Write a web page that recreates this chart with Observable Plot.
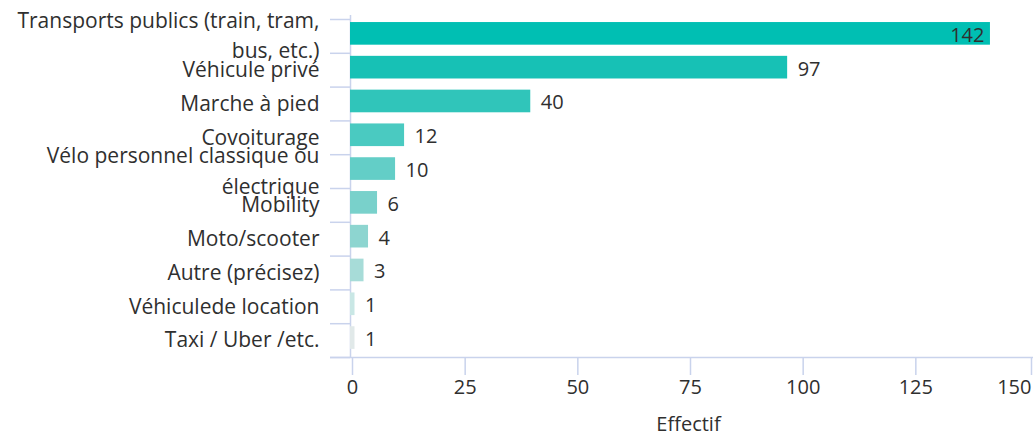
<!DOCTYPE html>
<html>
<head>
<meta charset="utf-8">
<script src="https://cdn.jsdelivr.net/npm/d3@7"></script>
<script src="https://cdn.jsdelivr.net/npm/@observablehq/plot@0.6"></script>
<style>
  html, body { margin: 0; padding: 0; background: #fff; }
  #chart { width: 1033px; height: 437px; }
</style>
</head>
<body>
<div id="chart"></div>
<script>
const categories = [
  "Transports publics (train, tram, bus, etc.)",
  "Véhicule privé",
  "Marche à pied",
  "Covoiturage",
  "Vélo personnel classique ou électrique",
  "Mobility",
  "Moto/scooter",
  "Autre (précisez)",
  "Véhicule de location",
  "Taxi / Uber /etc."
];
const tickLabels = [
  "Transports publics (train, tram,\nbus, etc.)",
  "Véhicule privé",
  "Marche à pied",
  "Covoiturage",
  "Vélo personnel classique ou\nélectrique",
  "Mobility",
  "Moto/scooter",
  "Autre (précisez)",
  "Véhiculede location",
  "Taxi / Uber /etc."
];
const values = [142, 97, 40, 12, 10, 6, 4, 3, 1, 1];
const colors = ["#00bfb3", "#17c1b5", "#30c5ba", "#4acac1", "#63cec7", "#79d1cb", "#8dd5d0", "#a7dcd8", "#c9e7e5", "#e1e9e9"];
const xTicks = [0, 25, 50, 75, 100, 125, 150];

const data = categories.map((c, i) => ({category: c, label: tickLabels[i], value: values[i], color: colors[i], i}));
const edgeTicks = d3.range(categories.length + 1);
const centerTicks = data.map(d => d.i + 0.5);
const xMax = d3.max(xTicks);

const axisColor = "#c9d3ec";
const textColor = "#2f2f2f";
const font = "'Open Sans', sans-serif";

const chart = Plot.plot({
  width: 1033,
  height: 437,
  marginLeft: 350,
  marginRight: 7,
  marginTop: 19,
  marginBottom: 80,
  style: {fontFamily: font, fontSize: "20px", color: textColor, background: "#fff"},
  x: {domain: [0, xMax], axis: null},
  y: {domain: [0, categories.length], reverse: true, axis: null},
  color: {type: "identity"},
  marks: [
    Plot.ruleX([0], {stroke: axisColor, strokeWidth: 1.5, insetTop: -4}),
    Plot.ruleY([categories.length], {stroke: axisColor, strokeWidth: 1.5, insetLeft: -20, insetRight: -7}),
    Plot.axisY(edgeTicks, {tickSize: 20, tickFormat: () => "", stroke: axisColor, strokeWidth: 1.5, label: null}),
    Plot.axisY(centerTicks, {
      tickSize: 0, tickPadding: 31, label: null,
      tickFormat: t => tickLabels[Math.round(t - 0.5)],
      lineHeight: 1.45, fontSize: 21, fill: textColor, dy: -3
    }),
    Plot.axisX(xTicks.filter(t => t < xMax), {
      tickSize: 18, tickPadding: 4, stroke: axisColor, strokeWidth: 1.5,
      fontSize: 20, fill: textColor, dx: 2,
      label: null
    }),
    Plot.axisX([xMax], {
      tickSize: 18, tickPadding: 4, stroke: axisColor, strokeWidth: 1.5,
      fontSize: 20, fill: textColor, textAnchor: "end", dx: 5,
      label: null
    }),
    Plot.axisX({
      ticks: [], tickSize: 0, fontSize: 20, fill: textColor,
      label: "Effectif", labelAnchor: "center", labelArrow: "none", labelOffset: 73
    }),
    Plot.rectX(data, {
      x1: 0, x2: "value",
      y1: d => d.i + 0.09, y2: d => d.i + 0.76,
      fill: "color"
    }),
    Plot.text(data.filter(d => d.value <= 130), {
      x: "value", y: d => d.i + 0.47, text: d => String(d.value),
      dx: 10, textAnchor: "start", fill: textColor, fontSize: 20
    }),
    Plot.text(data.filter(d => d.value > 130), {
      x: "value", y: d => d.i + 0.47, text: d => String(d.value),
      dx: -6, textAnchor: "end", fill: textColor, fontSize: 20
    })
  ]
});
document.getElementById("chart").appendChild(chart);
</script>
</body>
</html>
